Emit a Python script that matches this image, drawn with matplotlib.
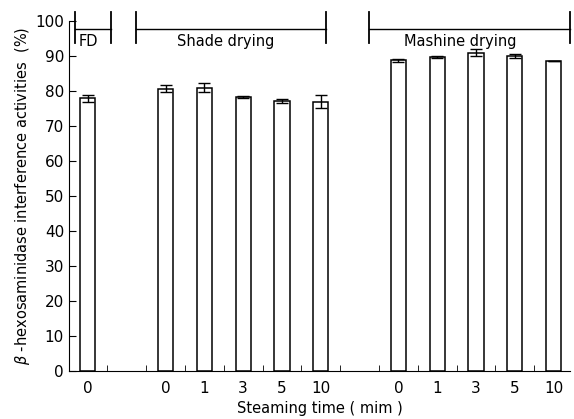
import numpy as np
import matplotlib.pyplot as plt

# data
positions = [0, 2, 3, 4, 5, 6, 8, 9, 10, 11, 12]
tick_labels = ['0', '0', '1', '3', '5', '10', '0', '1', '3', '5', '10']
values = [78.0, 80.7, 81.0, 78.3, 77.2, 77.0, 88.8, 89.8, 91.0, 90.0, 88.5]
errors = [1.0, 1.0, 1.3, 0.3, 0.5, 1.8, 0.4, 0.3, 1.0, 0.5, 0.0]

groups = ['FD', 'Shade drying', 'Mashine drying']
group_spans = [(-0.34, 0.59), (1.24, 6.13), (7.24, 12.42)]
group_label_x = [0.0, 3.56, 9.6]

plt.rcParams['font.family'] = 'DejaVu Sans'
fig = plt.figure(figsize=(5.74, 4.19), dpi=100)
ax = fig.add_axes([0.120, 0.1146, 0.873, 0.835])

ax.bar(positions, values, width=0.39, color='white', edgecolor='black', linewidth=1.1)
ax.errorbar(positions, values, yerr=errors, fmt='none', ecolor='black',
            elinewidth=1, capsize=4, capthick=1)

ax.set_xlim(-0.49, 12.42)
ax.set_ylim(0, 100)
ax.set_yticks(np.arange(0, 101, 10))
ax.set_xticks(positions)
ax.set_xticklabels(tick_labels, fontsize=11)
ax.set_xticks(np.arange(0.5, 12, 1), minor=True)
ax.tick_params(axis='y', direction='in', labelsize=11, length=5)
ax.tick_params(axis='x', which='major', length=0, pad=7)
ax.tick_params(axis='x', which='minor', direction='in', length=4)
ax.spines['top'].set_visible(False)
ax.spines['right'].set_visible(False)

# group brackets above the bars
for name, (x0, x1), lx in zip(groups, group_spans, group_label_x):
    ax.plot([x0, x1], [97.7, 97.7], color='black', lw=1, clip_on=False)
    ax.plot([x0, x0], [93.7, 102.6], color='black', lw=1.3, clip_on=False)
    ax.plot([x1, x1], [93.7, 102.6], color='black', lw=1.3, clip_on=False)
    ax.text(lx, 96.3, name, ha='center', va='top', fontsize=10.5)

ax.set_xlabel('Steaming time ( mim )', fontsize=10.5, labelpad=4)
ax.set_ylabel(r'$\beta$ -hexosaminidase interference activities  (%)', fontsize=10.5, labelpad=2)

fig.savefig('out.png', dpi=100)
